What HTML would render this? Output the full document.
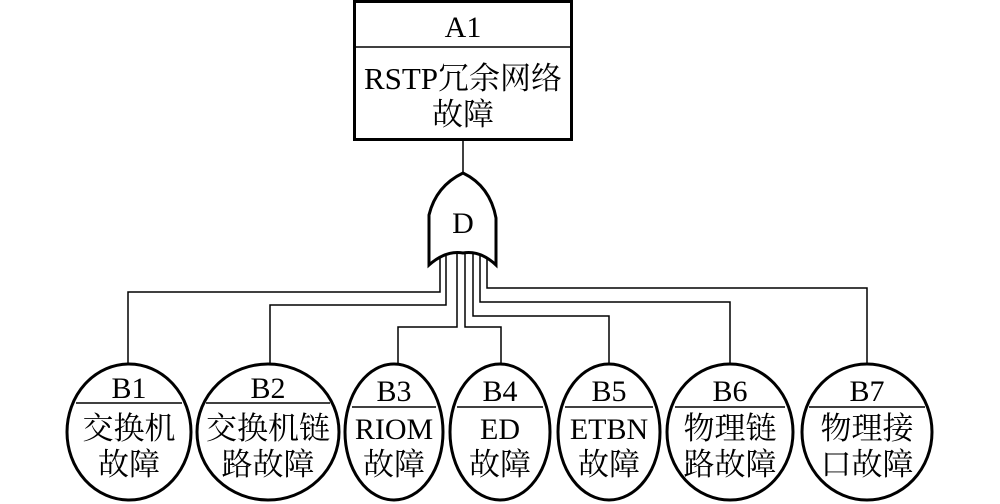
<!DOCTYPE html>
<html><head><meta charset="utf-8"><style>
html,body{margin:0;padding:0;background:#fff;}
svg{display:block;}
text{font-family:"Liberation Serif","Noto Serif CJK SC",serif;fill:#000;}
</style></head><body>
<svg width="1000" height="504" viewBox="0 0 1000 504">
<rect x="354.5" y="1.5" width="217" height="138" fill="#fff" stroke="#000" stroke-width="3"/>
<line x1="354" y1="47" x2="572" y2="47" stroke="#000" stroke-width="1.5"/>
<text x="463" y="37" font-size="30" text-anchor="middle">A1</text>
<text x="463" y="89" font-size="31" text-anchor="middle">RSTP冗余网络</text>
<text x="463" y="125" font-size="31" text-anchor="middle">故障</text>
<line x1="463" y1="140" x2="463" y2="173" stroke="#000" stroke-width="1.5"/>
<path d="M463 173 Q490 186 496 218 L496 265 Q480 250 463 253 Q446 250 429 265 L429 215 Q436 186 463 173 Z" fill="#fff" stroke="#000" stroke-width="3"/>
<text x="463" y="233" font-size="30" text-anchor="middle">D</text>
<g fill="none" stroke="#000" stroke-width="1.5">
<polyline points="440,258 440,292 128,292 128,364"/>
<polyline points="446,256 446,305 270,305 270,364"/>
<polyline points="457,254 457,327 398,327 398,364"/>
<polyline points="465,254 465,327 501,327 501,364"/>
<polyline points="473,254 473,316 609,316 609,364"/>
<polyline points="480,256 480,302 730,302 730,364"/>
<polyline points="487,258 487,288 867,288 867,364"/>
</g>
<g fill="#fff" stroke="#000" stroke-width="3">
<ellipse cx="129" cy="432" rx="62" ry="68"/>
<ellipse cx="268" cy="432" rx="71" ry="68"/>
<ellipse cx="394" cy="432" rx="49" ry="68"/>
<ellipse cx="500" cy="432" rx="50" ry="68"/>
<ellipse cx="609" cy="432" rx="51" ry="68"/>
<ellipse cx="730" cy="432" rx="63" ry="68"/>
<ellipse cx="867" cy="432" rx="65" ry="68"/>
</g>
<g stroke="#000" stroke-width="1.5">
<line x1="76" y1="403" x2="182" y2="403"/>
<line x1="206" y1="403" x2="330" y2="403"/>
<line x1="352" y1="407" x2="436" y2="407"/>
<line x1="457" y1="407" x2="543" y2="407"/>
<line x1="565" y1="407" x2="653" y2="407"/>
<line x1="675" y1="407" x2="785" y2="407"/>
<line x1="809" y1="407" x2="925" y2="407"/>
</g>
<g font-size="30" text-anchor="middle">
<text x="129" y="398">B1</text>
<text x="268" y="398">B2</text>
<text x="394" y="401">B3</text>
<text x="500" y="401">B4</text>
<text x="609" y="401">B5</text>
<text x="730" y="401">B6</text>
<text x="867" y="401">B7</text>
</g>
<g font-size="31" text-anchor="middle">
<text x="129" y="439">交换机</text><text x="129" y="475">故障</text>
<text x="268" y="439">交换机链</text><text x="268" y="475">路故障</text>
<text x="394" y="439" font-size="30">RIOM</text><text x="394" y="475">故障</text>
<text x="500" y="439" font-size="30">ED</text><text x="500" y="475">故障</text>
<text x="609" y="439" font-size="30">ETBN</text><text x="609" y="475">故障</text>
<text x="730" y="439">物理链</text><text x="730" y="475">路故障</text>
<text x="867" y="439">物理接</text><text x="867" y="475">口故障</text>
</g>
</svg>
</body></html>
